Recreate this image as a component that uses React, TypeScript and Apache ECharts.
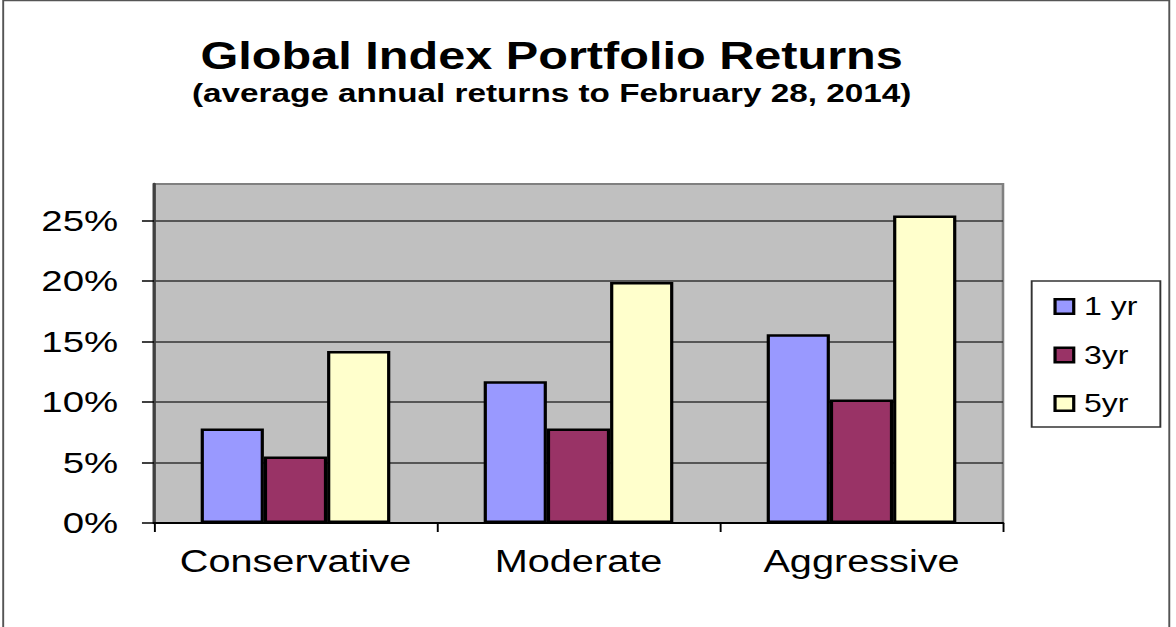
import React, { useEffect, useRef } from "react";
import * as echarts from "echarts";

const categories = ["Conservative", "Moderate", "Aggressive"];
const seriesNames = ["1 yr", "3yr", "5yr"];
const oneYear = [7.8, 11.7, 15.6];
const threeYear = [5.5, 7.8, 10.2];
const fiveYear = [14.2, 19.9, 25.4];
const yTicks = [0, 5, 10, 15, 20, 25];
const titleText = "Global Index Portfolio Returns";
const subtitleText = "(average annual returns to February 28, 2014)";

const STRETCH = 1.28;
const W = 1176 / STRETCH;
const H = 627;
const FONT = "Arial, 'Liberation Sans', Helvetica, sans-serif";

export default function App() {
  const ref = useRef<HTMLDivElement>(null);
  useEffect(() => {
    if (!ref.current) return;
    const chart = echarts.init(ref.current, null, { renderer: "svg" });
    const colors = ["#9999FF", "#993366", "#FFFFCC"];
    const values = [oneYear, threeYear, fiveYear];
    chart.setOption({
      animation: false,
      backgroundColor: "#ffffff",
      graphic: [
        {
          type: "rect",
          shape: { x: 2.5, y: 0.5, width: 911, height: 700 },
          style: { fill: "none", stroke: "#555", lineWidth: 1.5 },
          silent: true,
        },
        {
          type: "text",
          x: 431,
          y: 56,
          style: {
            text: titleText,
            font: `bold 38px ${FONT}`,
            fill: "#000",
            align: "center",
            verticalAlign: "middle",
          },
        },
        {
          type: "text",
          x: 431,
          y: 93,
          style: {
            text: subtitleText,
            font: `bold 26px ${FONT}`,
            fill: "#000",
            align: "center",
            verticalAlign: "middle",
          },
        },
      ],
      grid: {
        left: 120.3,
        top: 184,
        width: 663.3,
        height: 339,
        show: true,
        backgroundColor: "#C0C0C0",
        borderColor: "#808080",
        borderWidth: 2,
      },
      legend: {
        orient: "vertical",
        left: 806,
        top: 281,
        data: seriesNames,
        padding: [13, 18, 11, 17],
        itemGap: 23.5,
        itemWidth: 14.6,
        itemHeight: 14.6,
        icon: "rect",
        backgroundColor: "#ffffff",
        borderColor: "#333",
        borderWidth: 1.5,
        itemStyle: { borderColor: "#000", borderWidth: 2.5 },
        textStyle: {
          fontFamily: FONT,
          fontSize: 25,
          lineHeight: 25,
          color: "#000",
          padding: [0, 0, 0, 3],
        },
      },
      xAxis: {
        type: "category",
        data: categories,
        axisLine: { show: true, lineStyle: { color: "#000", width: 2 } },
        axisTick: { show: true, length: 9, lineStyle: { color: "#000", width: 1.5 } },
        axisLabel: {
          interval: 0,
          hideOverlap: false,
          fontFamily: FONT,
          fontSize: 31,
          color: "#000",
          margin: 23,
        },
        splitLine: { show: false },
      },
      yAxis: {
        type: "value",
        min: 0,
        max: 28,
        interval: 5,
        axisLine: { show: true, lineStyle: { color: "#404040", width: 2.5 } },
        axisTick: {
          show: true,
          length: 9.4,
          customValues: yTicks,
          lineStyle: { color: "#000", width: 1.5 },
        },
        axisLabel: {
          customValues: yTicks,
          formatter: "{value}%",
          fontFamily: FONT,
          fontSize: 30,
          color: "#000",
          margin: 28,
        },
        splitLine: { show: true, lineStyle: { color: "#333", width: 1.5 } },
      },
      series: seriesNames.map((name, i) => ({
        name,
        type: "bar",
        data: values[i],
        barGap: "0%",
        barCategoryGap: "33%",
        itemStyle: { color: colors[i], borderColor: "#000", borderWidth: 2.5 },
      })),
    });
    return () => chart.dispose();
  }, []);
  return (
    <div
      style={{
        position: "fixed",
        left: 0,
        top: 0,
        width: 1176,
        height: H,
        overflow: "hidden",
        background: "#fff",
      }}
    >
      <div
        ref={ref}
        style={{
          width: W,
          height: H,
          transform: `scaleX(${STRETCH})`,
          transformOrigin: "0 0",
        }}
      />
    </div>
  );
}
